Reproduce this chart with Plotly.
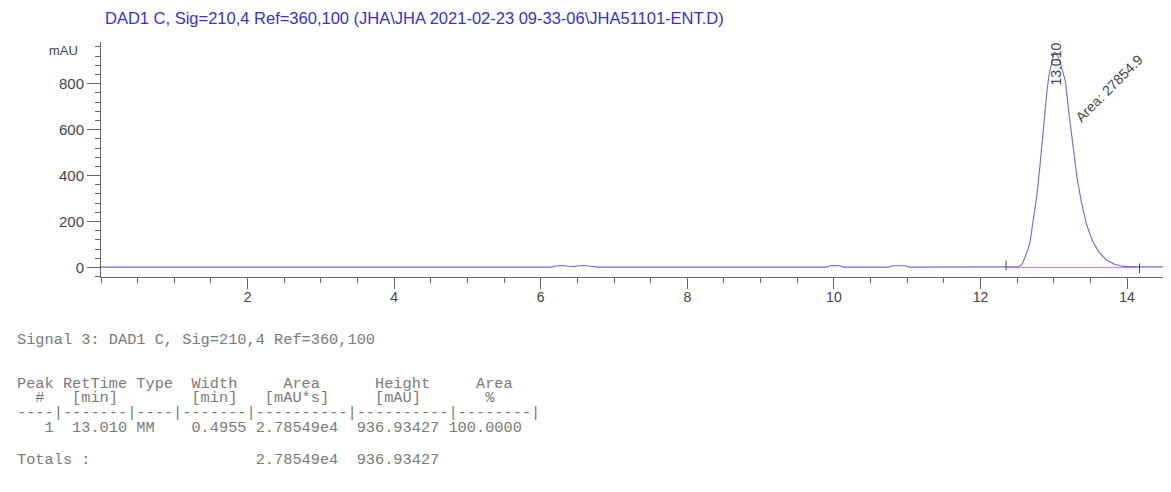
import plotly.graph_objects as go

# page is rendered with an 8px body margin; work in page pixels and convert
OFF = 8
W, H = 1171 - OFF, 492 - OFF
PLOT_L, PLOT_R, PLOT_T, PLOT_B = 101, 1171, 42, 277   # page pixels
L_M, R_M, T_M = PLOT_L - OFF, (1171 - OFF) - (PLOT_R - OFF), PLOT_T - OFF
B_M = H - (PLOT_B - OFF)

title_text = "DAD1 C, Sig=210,4 Ref=360,100 (JHA\\JHA 2021-02-23 09-33-06\\JHA51101-ENT.D)"
y_unit = "mAU"

# chromatogram trace (min, mAU)
time_min = [0.00, 6.15, 6.22, 6.30, 6.38, 6.45, 6.52, 6.60, 6.68, 6.78,
            9.90, 9.95, 10.00, 10.08, 10.13, 10.75, 10.80, 10.90, 10.98, 11.03,
            12.30, 12.45, 12.52, 12.57, 12.61, 12.65, 12.68, 12.72, 12.77, 12.81,
            12.85, 12.88, 12.91, 12.94, 12.97, 13.00, 13.01, 13.04, 13.08, 13.12,
            13.16, 13.20, 13.24, 13.28, 13.32, 13.38, 13.45, 13.53, 13.62, 13.72,
            13.83, 13.95, 14.17, 14.60]
signal_mau = [2, 2, 8, 9, 6, 4, 8, 9, 6, 2,
              2, 8, 9, 8, 2, 2, 8, 9, 8, 2,
              2, 3, 3, 15, 46, 80, 118, 198, 315, 437,
              575, 680, 775, 845, 895, 930, 937, 930, 900, 860,
              810, 690, 580, 470, 385, 280, 185, 115, 65, 33,
              14, 5, 3, 3]

# integration
peak_rt = [13.010]
peak_height = [936.93427]
peak_area = [27854.9]
integ_start = [12.35]
integ_end = [14.17]
baseline_level = [0, 0]

table_lines = [
    "Signal 3: DAD1 C, Sig=210,4 Ref=360,100",
    "Peak RetTime Type  Width     Area      Height     Area  ",
    "  #   [min]        [min]   [mAU*s]     [mAU]       %    ",
    "----|-------|----|-------|----------|----------|--------|",
    "   1  13.010 MM    0.4955 2.78549e4  936.93427 100.0000",
    "Totals :                  2.78549e4  936.93427",
]
table_y = [340, 384, 398, 413, 428, 460]

x_range = [0, 14.6]
y_range = [-41, 981]


def px(x):
    return (x - PLOT_L) / (PLOT_R - PLOT_L)


def py(y):
    return (PLOT_B - y) / (PLOT_B - PLOT_T)


fig = go.Figure()
fig.add_trace(go.Scatter(x=time_min, y=signal_mau, mode="lines",
                         line=dict(color="#6c6cdc", width=1.1), hoverinfo="skip"))
fig.add_trace(go.Scatter(x=[integ_start[0], integ_end[0]], y=baseline_level, mode="lines",
                         line=dict(color="#e070d8", width=1), hoverinfo="skip"))
fig.add_trace(go.Scatter(x=[integ_start[0], integ_start[0], None, integ_end[0], integ_end[0]],
                         y=[30, -12, None, 18, -25], mode="lines",
                         line=dict(color="#444444", width=1), hoverinfo="skip"))

axis_col = "#666666"
fig.update_layout(
    width=W, height=H,
    margin=dict(l=L_M, r=R_M, t=T_M, b=B_M, autoexpand=False),
    paper_bgcolor="white", plot_bgcolor="white",
    showlegend=False,
    font=dict(family="Liberation Sans, Arial, sans-serif", color="#444444", size=14),
    xaxis=dict(range=x_range, ticks="outside", ticklen=11, ticklabelstandoff=-4,
               tickcolor=axis_col, showline=True, linecolor=axis_col, linewidth=1,
               showgrid=False, zeroline=False, tickfont=dict(size=14, color="#444444"),
               minor=dict(dtick=0.5, tick0=0, ticks="outside", ticklen=5, tickcolor=axis_col, showgrid=False),
               tickvals=[2, 4, 6, 8, 10, 12, 14]),
    yaxis=dict(range=y_range, ticks="outside", ticklen=13, ticklabelstandoff=0,
               tickcolor=axis_col, showline=True, linecolor=axis_col, linewidth=1,
               showgrid=False, zeroline=False, tickfont=dict(size=15, color="#444444"),
               minor=dict(dtick=40, tick0=0, ticks="outside", ticklen=5, tickcolor=axis_col, showgrid=False),
               tickvals=[0, 200, 400, 600, 800]),
)

ann = []
ann.append(dict(text=title_text, xref="paper", yref="paper", x=px(103), y=py(18),
                xanchor="left", yanchor="middle", showarrow=False,
                font=dict(size=16.5, color="#3333cc", family="Liberation Sans, Arial")))
ann.append(dict(text=y_unit, xref="paper", yref="paper", x=px(80), y=py(50),
                xanchor="right", yanchor="middle", showarrow=False,
                font=dict(size=13, color="#444444")))
ann.append(dict(text=f"{peak_rt[0]:.3f}", x=peak_rt[0], y=peak_height[0], xref="x", yref="y",
                textangle=-90, showarrow=False, xanchor="center", yanchor="middle",
                xshift=2, yshift=-12, font=dict(size=14, color="#444444")))
ann.append(dict(text=f"Area: {peak_area[0]}", x=peak_rt[0], y=peak_height[0], xref="x", yref="y",
                textangle=-45, showarrow=False, xanchor="center", yanchor="middle",
                xshift=55, yshift=-36, font=dict(size=14, color="#444444")))
for line, yy in zip(table_lines, table_y):
    ann.append(dict(text=line.replace(" ", "\u00a0"), xref="paper", yref="paper",
                    x=px(15), y=py(yy), xanchor="left", yanchor="middle", showarrow=False,
                    height=14, valign="middle",
                    font=dict(size=15.3, color="#7a7a7a", family="Liberation Mono, Courier New, monospace")))
fig.update_layout(annotations=ann)

fig.write_html("out.html")
